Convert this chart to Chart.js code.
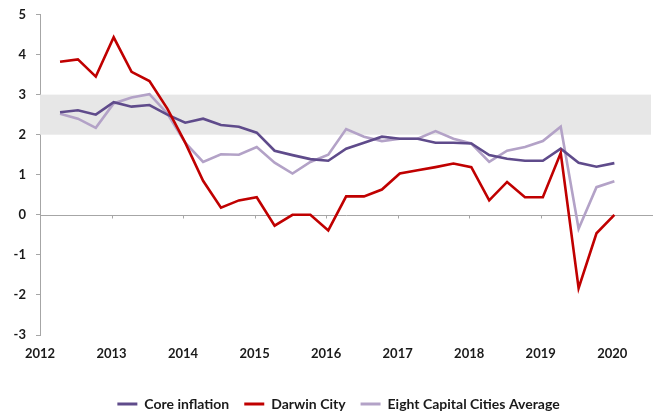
<!DOCTYPE html>
<html>
<head>
<meta charset="utf-8">
<script src="https://cdn.jsdelivr.net/npm/chart.js@4/dist/chart.umd.min.js"></script>
<style>
  html, body { margin: 0; padding: 0; background: #ffffff; }
  #wrap { width: 658px; height: 416px; }
</style>
</head>
<body>
<div id="wrap"><canvas id="c" width="658" height="416"></canvas></div>
<script>
// Quarter-end months, Mar 2012 .. Dec 2019
const quarters = [
  'Mar 2012','Jun 2012','Sep 2012','Dec 2012',
  'Mar 2013','Jun 2013','Sep 2013','Dec 2013',
  'Mar 2014','Jun 2014','Sep 2014','Dec 2014',
  'Mar 2015','Jun 2015','Sep 2015','Dec 2015',
  'Mar 2016','Jun 2016','Sep 2016','Dec 2016',
  'Mar 2017','Jun 2017','Sep 2017','Dec 2017',
  'Mar 2018','Jun 2018','Sep 2018','Dec 2018',
  'Mar 2019','Jun 2019','Sep 2019','Dec 2019'
];
const coreInflation = [
  2.56, 2.61, 2.50, 2.81, 2.70, 2.74, 2.50, 2.30,
  2.40, 2.24, 2.20, 2.05, 1.60, 1.49, 1.39, 1.35,
  1.65, 1.80, 1.95, 1.90, 1.90, 1.80, 1.80, 1.78,
  1.49, 1.40, 1.35, 1.35, 1.65, 1.30, 1.20, 1.29
];
const darwinCity = [
  3.82, 3.88, 3.45, 4.43, 3.57, 3.34, 2.65, 1.80,
  0.85, 0.18, 0.36, 0.44, -0.27, 0.00, 0.00, -0.39,
  0.46, 0.46, 0.63, 1.03, 1.11, 1.19, 1.28, 1.19,
  0.36, 0.82, 0.44, 0.44, 1.54, -1.83, -0.46, 0.00
];
const eightCapitals = [
  2.52, 2.40, 2.17, 2.78, 2.93, 3.01, 2.53, 1.80,
  1.32, 1.51, 1.50, 1.69, 1.30, 1.03, 1.32, 1.50,
  2.14, 1.95, 1.84, 1.90, 1.90, 2.09, 1.90, 1.78,
  1.32, 1.60, 1.69, 1.84, 2.20, -0.35, 0.69, 0.84
];
const yearTicks = [2012, 2013, 2014, 2015, 2016, 2017, 2018, 2019, 2020];
const targetBand = [2, 3];

const monthIdx = {Mar: 3, Jun: 6, Sep: 9, Dec: 12};
const xVals = quarters.map(q => {
  const [m, y] = q.split(' ');
  return Number(y) + monthIdx[m] / 12 + 0.03;
});
const toPts = arr => arr.map((v, i) => ({x: xVals[i], y: v}));

const FONT = 'Lato, "Open Sans", sans-serif';
const AXIS_GREY = '#a6a6a6';

const bandPlugin = {
  id: 'band',
  beforeDatasetsDraw(chart) {
    const {ctx, chartArea, scales} = chart;
    const y1 = scales.y.getPixelForValue(targetBand[1]);
    const y0 = scales.y.getPixelForValue(targetBand[0]);
    ctx.save();
    ctx.fillStyle = '#e7e7e7';
    ctx.fillRect(chartArea.left, y1, chartArea.right - chartArea.left - 2, y0 - y1);
    // x axis line at zero with tick marks hanging down
    const yz = Math.round(scales.y.getPixelForValue(0)) + 0.5;
    ctx.strokeStyle = AXIS_GREY;
    ctx.lineWidth = 1;
    ctx.beginPath();
    ctx.moveTo(chartArea.left, yz);
    ctx.lineTo(chartArea.right, yz);
    yearTicks.forEach(t => {
      const px = Math.round(scales.x.getPixelForValue(t)) + 0.5;
      ctx.moveTo(px, yz);
      ctx.lineTo(px, yz + 3);
    });
    ctx.stroke();
    ctx.restore();
  }
};

new Chart(document.getElementById('c'), {
  type: 'line',
  data: {
    datasets: [
      {label: 'Core inflation', data: toPts(coreInflation), borderColor: '#5f4b8b', backgroundColor: '#5f4b8b', order: 1},
      {label: 'Darwin City', data: toPts(darwinCity), borderColor: '#c00000', backgroundColor: '#c00000', order: 0},
      {label: 'Eight Capital Cities Average', data: toPts(eightCapitals), borderColor: '#b3a2c7', backgroundColor: '#b3a2c7', order: 2}
    ]
  },
  options: {
    responsive: false,
    animation: false,
    devicePixelRatio: 1,
    layout: {padding: {top: 14.5, right: -19, bottom: -5, left: 0}},
    elements: {
      line: {borderWidth: 2.6, tension: 0, borderJoinStyle: 'miter'},
      point: {radius: 0, hoverRadius: 0}
    },
    scales: {
      x: {
        type: 'linear',
        position: 'bottom',
        min: 2012,
        max: 2020.57,
        border: {display: false},
        grid: {display: false, drawTicks: false},
        afterBuildTicks: s => { s.ticks = yearTicks.map(v => ({value: v})); },
        afterFit: s => { s.height = 47; s.paddingLeft = 0; s.paddingRight = 0; },
        ticks: {
          autoSkip: false,
          maxRotation: 0,
          padding: 11,
          color: '#1a1a1a',
          font: {family: FONT, size: 13, weight: 'bold'},
          callback: v => String(v)
        }
      },
      y: {
        min: -3,
        max: 5,
        afterFit: s => { s.width = 40; s.paddingTop = 0; s.paddingBottom = 0; },
        border: {display: true, color: AXIS_GREY, width: 1},
        grid: {
          drawOnChartArea: false,
          drawTicks: true,
          tickLength: 4,
          tickColor: AXIS_GREY,
          color: AXIS_GREY
        },
        ticks: {
          stepSize: 1,
          padding: 10,
          color: '#1a1a1a',
          font: {family: FONT, size: 13, weight: 'bold'}
        }
      },
      spacer: {
        type: 'linear',
        position: 'right',
        display: true,
        border: {display: false},
        grid: {display: false, drawTicks: false},
        ticks: {display: false},
        afterFit: s => { s.width = 24; s.paddingTop = 0; s.paddingBottom = 0; }
      }
    },
    plugins: {
      tooltip: {enabled: false},
      legend: {
        position: 'bottom',
        labels: {
          color: '#1a1a1a',
          font: {family: FONT, size: 14, weight: 'bold'},
          boxWidth: 20,
          boxHeight: 3,
          padding: 15,
          sort: (a, b) => a.datasetIndex - b.datasetIndex,
          generateLabels: chart => Chart.defaults.plugins.legend.labels.generateLabels(chart).map(l => ({...l, lineWidth: 0}))
        }
      }
    }
  },
  plugins: [bandPlugin]
});
</script>
</body>
</html>
